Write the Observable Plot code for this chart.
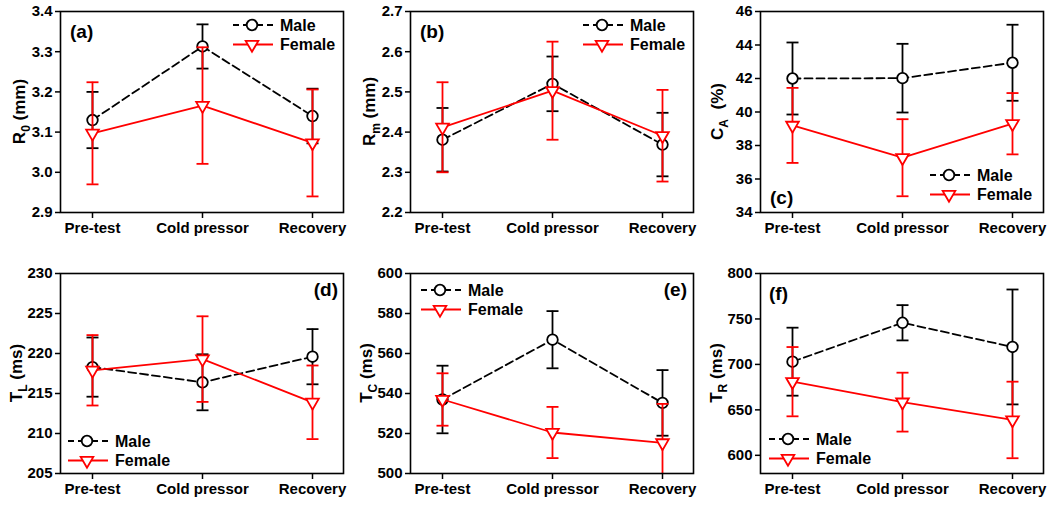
<!DOCTYPE html>
<html><head><meta charset="utf-8">
<script src="https://cdn.jsdelivr.net/npm/d3@7"></script>
<script src="https://cdn.jsdelivr.net/npm/@observablehq/plot@0.6"></script>
<style>
body{margin:0;background:#fff;}
#chart{position:relative;width:1050px;height:518px;overflow:hidden;background:#fff;}
.panel{position:absolute;}
</style></head><body><div id="chart"></div>
<script>
const categories = ["Pre-test", "Cold pressor", "Recovery"];
const seriesNames = ["Male", "Female"];

const r0MaleMean = [3.130, 3.313, 3.140];
const r0MaleSE = [0.070, 0.055, 0.068];
const r0FemaleMean = [3.097, 3.166, 3.073];
const r0FemaleSE = [0.127, 0.145, 0.133];
const r0Ticks = [2.9, 3.0, 3.1, 3.2, 3.3, 3.4];

const rmMaleMean = [2.381, 2.520, 2.369];
const rmMaleSE = [0.079, 0.068, 0.079];
const rmFemaleMean = [2.412, 2.503, 2.391];
const rmFemaleSE = [0.112, 0.122, 0.114];
const rmTicks = [2.2, 2.3, 2.4, 2.5, 2.6, 2.7];

const caMaleMean = [42.00, 42.02, 42.94];
const caMaleSE = [2.15, 2.05, 2.27];
const caFemaleMean = [39.20, 37.27, 39.30];
const caFemaleSE = [2.24, 2.30, 1.83];
const caTicks = [34, 36, 38, 40, 42, 44, 46];

const tlMaleMean = [218.3, 216.4, 219.6];
const tlMaleSE = [3.7, 3.5, 3.45];
const tlFemaleMean = [217.9, 219.3, 213.9];
const tlFemaleSE = [4.4, 5.35, 4.6];
const tlTicks = [205, 210, 215, 220, 225, 230];

const tcMaleMean = [537.0, 566.9, 535.3];
const tcMaleSE = [16.9, 14.3, 16.4];
const tcFemaleMean = [537.0, 520.5, 515.3];
const tcFemaleSE = [13.1, 12.8, 19.5];
const tcTicks = [500, 520, 540, 560, 580, 600];

const trMaleMean = [703.0, 745.8, 719.2];
const trMaleSE = [37.4, 19.4, 63.2];
const trFemaleMean = [681.0, 658.5, 638.9];
const trFemaleSE = [38.1, 32.4, 42.1];
const trTicks = [600, 650, 700, 750, 800];
const trDomain = [580, 800];

const FONT = "'Liberation Sans', Arial, Helvetica, sans-serif";
const RED = "#ff0000";

const capSymbol = {
  draw(ctx, size) {
    const h = Math.sqrt(size / Math.PI);
    ctx.moveTo(-h, 0);
    ctx.lineTo(h, 0);
  }
};

const panels = [
  {tag: "(a)", male: [r0MaleMean, r0MaleSE], female: [r0FemaleMean, r0FemaleSE], ticks: r0Ticks, domain: [2.9, 3.4], fmt: d3.format(".1f"),
   label: ["R", "0", " (mm)"], col: 0, row: 0, leg: {x: 252, y: 25}, tagPos: {x: 70, y: 38, anchor: "start"}, labelX: 19},
  {tag: "(b)", male: [rmMaleMean, rmMaleSE], female: [rmFemaleMean, rmFemaleSE], ticks: rmTicks, domain: [2.2, 2.7], fmt: d3.format(".1f"),
   label: ["R", "m", " (mm)"], col: 1, row: 0, leg: {x: 252, y: 25}, tagPos: {x: 70, y: 38, anchor: "start"}, labelX: 19},
  {tag: "(c)", male: [caMaleMean, caMaleSE], female: [caFemaleMean, caFemaleSE], ticks: caTicks, domain: [34, 46], fmt: d3.format("d"),
   label: ["C", "A", "  (%)"], col: 2, row: 0, leg: {x: 249, y: 175}, tagPos: {x: 70, y: 204, anchor: "start"}, labelX: 17},
  {tag: "(d)", male: [tlMaleMean, tlMaleSE], female: [tlFemaleMean, tlFemaleSE], ticks: tlTicks, domain: [205, 230], fmt: d3.format("d"),
   label: ["T", "L", " (ms)"], col: 0, row: 1, leg: {x: 87, y: 183}, tagPos: {x: 338, y: 38, anchor: "end"}, labelX: 16},
  {tag: "(e)", male: [tcMaleMean, tcMaleSE], female: [tcFemaleMean, tcFemaleSE], ticks: tcTicks, domain: [500, 600], fmt: d3.format("d"),
   label: ["T", "C", " (ms)"], col: 1, row: 1, leg: {x: 90, y: 32}, tagPos: {x: 337, y: 38, anchor: "end"}, labelX: 16},
  {tag: "(f)", male: [trMaleMean, trMaleSE], female: [trFemaleMean, trFemaleSE], ticks: trTicks, domain: trDomain, fmt: d3.format("d"),
   label: ["T", "R", " (ms)"], col: 2, row: 1, leg: {x: 88, y: 181}, tagPos: {x: 69, y: 42, anchor: "start"}, labelX: 16}
];

const rows = [
  {top: 0, height: 258, marginTop: 11, marginBottom: 46},
  {top: 258, height: 260, marginTop: 15, marginBottom: 45}
];

function rowsOf(pair) {
  return categories.map((c, i) => ({cat: c, m: pair[0][i], e: pair[1][i]}));
}

function seriesMarks(data, color, dash, symbol) {
  const common = {x: "cat", stroke: color, strokeWidth: 1.8};
  return [
    Plot.ruleX(data, {...common, y1: d => d.m - d.e, y2: d => d.m + d.e, clip: true}),
    Plot.dot(data, {...common, y: d => d.m + d.e, symbol: capSymbol, r: 6, fill: "none", clip: true}),
    Plot.dot(data, {...common, y: d => d.m - d.e, symbol: capSymbol, r: 6, fill: "none", clip: true}),
    Plot.line(data, {x: "cat", y: "m", stroke: color, strokeWidth: 1.8, strokeDasharray: dash}),
    symbol === "circle"
      ? Plot.dot(data, {x: "cat", y: "m", r: 5.3, fill: "white", stroke: color, strokeWidth: 1.8})
      : Plot.dot(data, {x: "cat", y: "m", symbol: "triangle", rotate: 180, r: 4.7, fill: "white", stroke: color, strokeWidth: 1.8})
  ];
}

const chart = document.getElementById("chart");

panels.forEach(p => {
  const row = rows[p.row];
  const maleData = rowsOf(p.male);
  const femaleData = rowsOf(p.female);
  const svgNode = Plot.plot({
    width: 350,
    height: row.height,
    marginLeft: 60,
    marginRight: 7,
    marginTop: row.marginTop,
    marginBottom: row.marginBottom,
    style: {fontFamily: FONT, fontSize: "15px", fontWeight: "bold", color: "black", background: "white", overflow: "visible"},
    x: {type: "point", domain: categories, padding: 0.28},
    y: {domain: p.domain},
    marks: [
      Plot.axisY({ticks: p.ticks, tickFormat: p.fmt, tickSize: 5, tickPadding: 3, label: null, fontSize: 15, fontWeight: "bold", strokeWidth: 1.5}),
      Plot.axisX({tickSize: 6, tickPadding: 4, label: null, fontSize: 15, fontWeight: "bold", strokeWidth: 1.5}),
      ...seriesMarks(maleData, "black", "8,4", "circle"),
      ...seriesMarks(femaleData, RED, null, "triangle"),
      Plot.frame({stroke: "black", strokeWidth: 1.6})
    ]
  });

  const svg = d3.select(svgNode);
  const cy = row.marginTop + (row.height - row.marginTop - row.marginBottom) / 2;

  // y-axis label with subscript
  const lab = svg.append("text")
    .attr("transform", `translate(${p.labelX},${cy}) rotate(-90)`)
    .attr("text-anchor", "middle")
    .attr("font-family", FONT).attr("font-weight", "bold").attr("font-size", 17)
    .attr("fill", "black").style("white-space", "pre")
    .attr("dy", "0.35em");
  lab.append("tspan").text(p.label[0]);
  lab.append("tspan").attr("font-size", 12).attr("dy", 5).text(p.label[1]);
  lab.append("tspan").attr("dy", -5).text(p.label[2]);

  // panel tag
  svg.append("text")
    .attr("x", p.tagPos.x).attr("y", p.tagPos.y)
    .attr("text-anchor", p.tagPos.anchor)
    .attr("font-family", FONT).attr("font-weight", "bold").attr("font-size", 19)
    .attr("fill", "black").text(p.tag);

  // legend
  const g = svg.append("g").attr("font-family", FONT).attr("font-weight", "bold").attr("font-size", 16)
    .attr("text-anchor", "start");
  const lx = p.leg.x, ly = p.leg.y, ly2 = p.leg.y + 19.5;
  g.append("line").attr("x1", lx - 19).attr("x2", lx + 21).attr("y1", ly).attr("y2", ly)
    .attr("stroke", "black").attr("stroke-width", 1.8).attr("stroke-dasharray", "8,4").attr("stroke-dashoffset", 2);
  g.append("circle").attr("cx", lx).attr("cy", ly).attr("r", 5.3)
    .attr("fill", "white").attr("stroke", "black").attr("stroke-width", 1.8);
  g.append("text").attr("x", lx + 28).attr("y", ly).attr("dy", "0.36em").attr("text-anchor", "start")
    .attr("fill", "black").text(seriesNames[0]);
  g.append("line").attr("x1", lx - 19).attr("x2", lx + 21).attr("y1", ly2).attr("y2", ly2)
    .attr("stroke", RED).attr("stroke-width", 1.8);
  g.append("path").attr("d", d3.symbol(d3.symbolTriangle, 4.7 * 4.7 * Math.PI)())
    .attr("transform", `translate(${lx},${ly2}) rotate(180)`)
    .attr("fill", "white").attr("stroke", RED).attr("stroke-width", 1.8);
  g.append("text").attr("x", lx + 28).attr("y", ly2).attr("dy", "0.36em").attr("text-anchor", "start")
    .attr("fill", "black").text(seriesNames[1]);

  const wrap = document.createElement("div");
  wrap.className = "panel";
  wrap.style.left = (p.col * 350) + "px";
  wrap.style.top = row.top + "px";
  wrap.appendChild(svgNode);
  chart.appendChild(wrap);
});
</script></body></html>
